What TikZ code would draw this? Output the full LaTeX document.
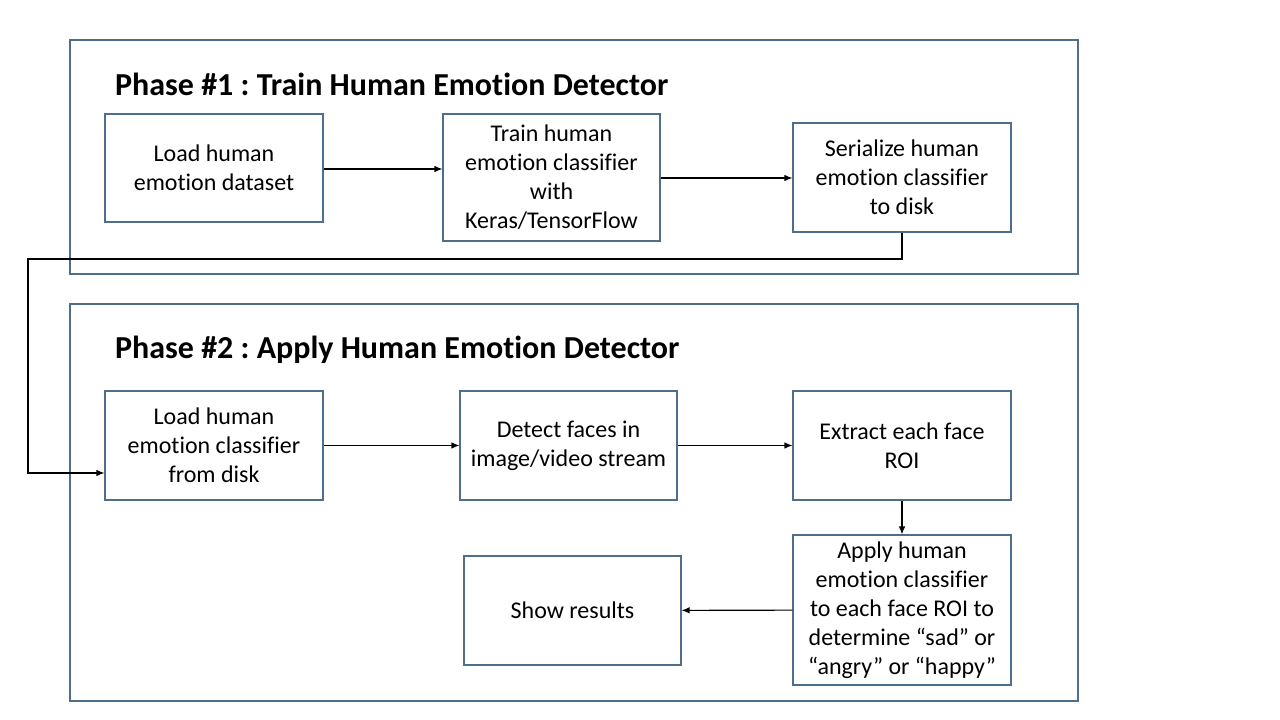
\documentclass[tikz,border=0pt]{standalone}
\usepackage{fontspec}
\setmainfont[Ligatures=NoCommon]{Carlito}
\usetikzlibrary{arrows.meta}
\definecolor{boxc}{HTML}{4F6E8C}
\frenchspacing
\begin{document}
\begin{tikzpicture}[x=1pt,y=-1pt,
  frame/.style={draw=boxc,line width=1.1pt,inner sep=0pt},
  stepbox/.style={draw=boxc,line width=1.1pt,align=center,inner sep=2pt,
    font=\fontsize{24}{29}\selectfont},
  ttl/.style={anchor=west,inner sep=0pt,font=\fontsize{32}{36}\selectfont\bfseries},
  arr/.style={draw=black,line width=1.1pt,-{Latex[length=8pt,width=6.5pt]}}]
\useasboundingbox[fill=white] (0,0) rectangle (1280,720);
% containers
\node[frame,minimum width=1008,minimum height=234] (P1) at (574,157) {};
\node[frame,minimum width=1008,minimum height=397] (P2) at (574,502.5) {};
\node[ttl] (T1) at (115,84) {Phase \#1 : Train Human Emotion Detector};
\node[ttl] (T2) at (115,350) {Phase \#2 : Apply Human Emotion Detector};
% phase 1
\node[stepbox,minimum width=218,minimum height=108] (A) at (214,168) {Load human\\emotion dataset};
\node[stepbox,minimum width=217,minimum height=127] (B) at (551.5,177.5) {Train human\\emotion classifier\\with\\Keras/TensorFlow};
\node[stepbox,minimum width=218,minimum height=109] (C) at (902,177.5) {Serialize human\\emotion classifier\\to disk};
% phase 2
\node[stepbox,minimum width=218,minimum height=109] (D) at (214,445.5) {Load human\\emotion classifier\\from disk};
\node[stepbox,minimum width=217,minimum height=109] (E) at (568.5,445.5) {Detect faces in\\image/video stream};
\node[stepbox,minimum width=218,minimum height=109] (F) at (902,445.5) {Extract each face\\ROI};
\node[stepbox,minimum width=218,minimum height=150] (G) at (902,610) {Apply human\\emotion classifier\\to each face ROI to\\determine “sad” or\\“angry” or “happy”};
\node[stepbox,minimum width=217,minimum height=109] (H) at (572.5,610.5) {Show results};
% connectors
\coordinate (k1) at (28,259);
\coordinate (k2) at (28,473);
\draw[arr] (A.east |- 0,169) -- (B.west |- 0,169);
\draw[arr] (B.east |- 0,178) -- (C.west |- 0,178);
\draw[arr] (C.south) |- (k1) -- (k2) -- (k2 -| D.west);
\draw[arr] (D) -- (E);
\draw[arr] (E) -- (F);
\draw[arr] (F) -- (G);
\draw[arr] (G) -- (H);
\end{tikzpicture}
\end{document}
